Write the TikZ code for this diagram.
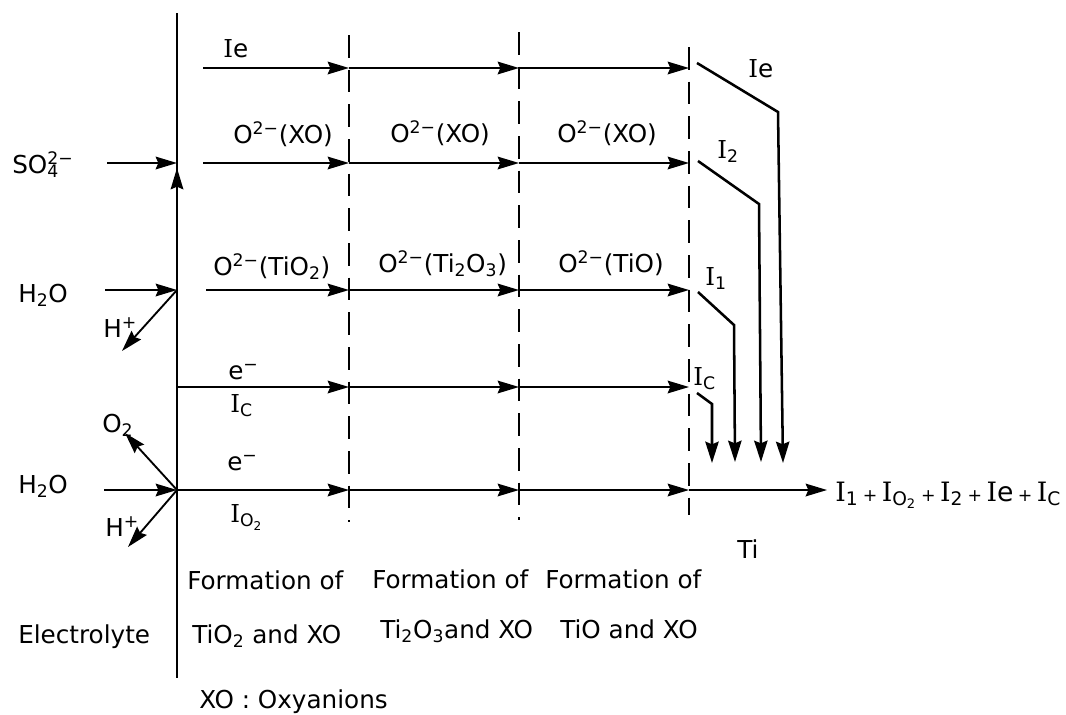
\documentclass[tikz,border=0pt]{standalone}
\usepackage{fontspec}
\setmainfont{DejaVu Sans}
\newfontfamily\iserif{DejaVu Serif}
\usetikzlibrary{arrows.meta}
\newcommand\Icur{{\iserif I}}
\newcommand\supsub[2]{\rlap{\textsubscript{#2}}\textsuperscript{#1}}
\newcommand\smallplus{\,{\fontsize{13}{13}\selectfont +}\,}
\tikzset{
  arr/.style={line width=1.4pt, -{Stealth[length=16pt,width=9.5pt,inset=2pt]}},
  darr/.style={line width=1.9pt, -{Stealth[length=16pt,width=10pt,inset=2pt]}},
  mainline/.style={line width=1.7pt},
  dline/.style={line width=1.7pt, dash pattern=on 17pt off 9pt},
  lbl/.style={inner sep=0pt, anchor=base west, font=\fontsize{18.5}{22}\selectfont},
}
\begin{document}
\begin{tikzpicture}[x=0.75pt,y=-0.75pt]
\useasboundingbox (0,0) rectangle (1066,714);

% interface and boundaries
\coordinate (itop) at (177,13);
\coordinate (ibot) at (177,678);
\draw[mainline] (itop) -- (ibot);
\coordinate (d1t) at (349,35);  \coordinate (d1b) at (349,522);
\coordinate (d2t) at (519,32);  \coordinate (d2b) at (519,520);
\coordinate (d3t) at (689,47);  \coordinate (d3b) at (689,515);
\draw[dline] (d1t) -- (d1b);
\draw[dline] (d2t) -- (d2b);
\draw[dline] (d3t) -- (d3b);

% horizontal flows
\foreach \n/\y/\xs in {1/68/203,2/163/203,3/290/206,4/387/177,5/490/177}{
  \coordinate (s\n) at (\xs,\y);
  \coordinate (p\n) at (349,\y);
  \coordinate (q\n) at (519,\y);
  \coordinate (r\n) at (689,\y);
  \draw[arr] (s\n) -- (p\n);
  \draw[arr] (p\n) -- (q\n);
  \draw[arr] (q\n) -- (r\n);
}
\coordinate (outend) at (827,490);
\draw[arr] (r5) -- (outend);

% electrolyte side
\coordinate (j3) at (177,290);
\coordinate (j5) at (177,490);
\coordinate (upt) at (177,168);
\draw[arr] (j3) -- (upt);
\coordinate (so4s) at (107,163); \coordinate (so4e) at (177,163);
\draw[arr] (so4s) -- (so4e);
\coordinate (h2oa) at (105,290);
\draw[arr] (h2oa) -- (j3);
\coordinate (hpa) at (122,351);
\draw[arr] (j3) -- (hpa);
\coordinate (h2ob) at (104,490);
\draw[arr] (h2ob) -- (j5);
\coordinate (o2t) at (125,433);
\draw[arr] (j5) -- (o2t);
\coordinate (hpb) at (128,547);
\draw[arr] (j5) -- (hpb);

% collection arrows on metal side
\coordinate (ie0) at (697,63);  \coordinate (ie1) at (778,112); \coordinate (ie2) at (783,463);
\coordinate (iz0) at (698,161); \coordinate (iz1) at (759,204); \coordinate (iz2) at (761,462);
\coordinate (io0) at (698,292); \coordinate (io1) at (734,325); \coordinate (io2) at (735,462);
\coordinate (ic0) at (697,393); \coordinate (ic1) at (712,404); \coordinate (ic2) at (712,463);
\draw[darr] (ie0) -- (ie1) -- (ie2);
\draw[darr] (iz0) -- (iz1) -- (iz2);
\draw[darr] (io0) -- (io1) -- (io2);
\draw[darr] (ic0) -- (ic1) -- (ic2);

% labels
\node[lbl] (lIe) at (223,57) {\Icur e};
\node[lbl] (lx1) at (233,143) {O\textsuperscript{2−}(XO)};
\node[lbl] (lx2) at (390,142) {O\textsuperscript{2−}(XO)};
\node[lbl] (lx3) at (557,142) {O\textsuperscript{2−}(XO)};
\node[lbl] (lt1) at (213,275) {O\textsuperscript{2−}(TiO\textsubscript{2})};
\node[lbl] (lt2) at (378,272) {O\textsuperscript{2−}(Ti\textsubscript{2}O\textsubscript{3})};
\node[lbl] (lt3) at (558,272) {O\textsuperscript{2−}(TiO)};
\node[lbl] (le4) at (228,379) {e\textsuperscript{−}};
\node[lbl] (lIc) at (230,412) {\Icur\textsubscript{C}};
\node[lbl] (le5) at (227,470) {e\textsuperscript{−}};
\node[lbl] (lIo) at (230,522) {\Icur\textsubscript{O\textsubscript{2}}};

\node[lbl] (lso4) at (12,173) {SO\supsub{2−}{4}};
\node[lbl] (lh2oa) at (18,302) {H\textsubscript{2}O};
\node[lbl] (lhpa) at (103,337) {H\textsuperscript{+}};
\node[lbl] (lo2) at (102,432) {O\textsubscript{2}};
\node[lbl] (lh2ob) at (18,493) {H\textsubscript{2}O};
\node[lbl] (lhpb) at (105,536) {H\textsuperscript{+}};

\node[lbl] (rIe) at (748,77) {\Icur e};
\node[lbl] (rI2) at (717,158) {\Icur\textsubscript{2}};
\node[lbl] (rI1) at (705,285) {\Icur\textsubscript{1}};
\node[lbl] (rIc) at (693,385) {\Icur\textsubscript{C}};
\node[lbl, font=\fontsize{20}{24}\selectfont] (sum) at (835,501) {\Icur\textsubscript{1}\smallplus\Icur\textsubscript{O\textsubscript{2}}\smallplus\Icur\textsubscript{2}\smallplus\Icur e\smallplus\Icur\textsubscript{C}};
\node[lbl] (lTi) at (737,558) {Ti};

\node[lbl] (f1) at (187,589) {Formation of};
\node[lbl] (f2) at (372,588) {Formation of};
\node[lbl] (f3) at (545,588) {Formation of};
\node[lbl] (g1) at (192,643) {TiO\textsubscript{2} and XO};
\node[lbl] (g2) at (380,638) {Ti\textsubscript{2}O\textsubscript{3}and XO};
\node[lbl] (g3) at (560,638) {TiO and XO};
\node[lbl] (elec) at (18,643) {Electrolyte};
\node[lbl] (xo) at (199,708) {XO : Oxyanions};
\end{tikzpicture}
\end{document}
